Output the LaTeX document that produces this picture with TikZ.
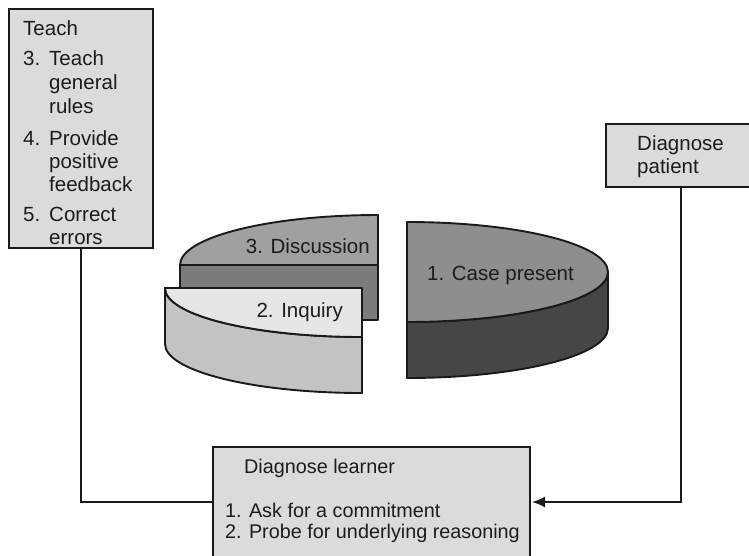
\documentclass[tikz,border=0pt]{standalone}
\usepackage{fontspec}
\setmainfont{Liberation Sans}
\usetikzlibrary{arrows.meta}
\definecolor{boxfill}{HTML}{DBDBDB}
\definecolor{inkline}{HTML}{1A1A1A}
\definecolor{inktext}{HTML}{1C1C1C}
\definecolor{casetop}{HTML}{8E8E8E}
\definecolor{caseside}{HTML}{464646}
\definecolor{caseside2}{HTML}{5A5A5A}
\definecolor{disctop}{HTML}{A0A0A0}
\definecolor{discfront}{HTML}{7B7B7B}
\definecolor{inqtop}{HTML}{E6E6E6}
\definecolor{inqside}{HTML}{C3C3C3}
\tikzset{
  panel/.style={draw=inkline, line width=2.2pt, fill=boxfill, inner sep=0pt, outer sep=0pt},
  lbl/.style={inner sep=0pt, text=inktext, font=\fontsize{20.5}{24}\selectfont},
  lblsm/.style={inner sep=0pt, text=inktext, font=\fontsize{19.8}{22}\selectfont},
  wire/.style={draw=inkline, line width=1.8pt},
  slice/.style={draw=inkline, line width=1.9pt, line join=round},
}
\begin{document}
\begin{tikzpicture}[x=1pt,y=1pt,yscale=-1]
\useasboundingbox (0,0) rectangle (749,555);
\clip (0,0) rectangle (749,555);
\fill[white] (0,0) rectangle (749,555);

% boxes
\node[panel, minimum width=144, minimum height=239] (teach) at (81,128.5) {};
\node[panel, minimum width=150, minimum height=63] (patient) at (681,155.5) {};
\node[panel, minimum width=317, minimum height=110] (learner) at (371.5,502) {};

% connectors
\draw[wire] (teach.south) |- (learner.west);
\draw[wire, -{Latex[length=13pt,width=11pt]}] (patient.south) |- ([xshift=2pt]learner.east);

% Teach box text
\node[lbl, anchor=base west] (tH) at (23,35) {Teach};
\node[lbl, anchor=base west] (n3) at (23,65) {3.};
\node[lbl, anchor=base west] (t3a) at (49,65) {Teach};
\node[lbl, anchor=base west] (t3b) at (49,89) {general};
\node[lbl, anchor=base west] (t3c) at (49,113) {rules};
\node[lbl, anchor=base west] (n4) at (23,145) {4.};
\node[lbl, anchor=base west] (t4a) at (49,145) {Provide};
\node[lbl, anchor=base west] (t4b) at (49,168) {positive};
\node[lbl, anchor=base west] (t4c) at (49,191) {feedback};
\node[lbl, anchor=base west] (n5) at (23,221) {5.};
\node[lbl, anchor=base west] (t5a) at (49,221) {Correct};
\node[lbl, anchor=base west] (t5b) at (49,244) {errors};

% Diagnose patient text
\node[lbl, anchor=base west] (p1) at (637,150) {Diagnose};
\node[lbl, anchor=base west] (p2) at (637,173) {patient};

% Diagnose learner text
\node[lblsm, anchor=base west] (l0) at (244,473) {Diagnose learner};
\node[lblsm, anchor=base west] (l1) at (225,517) {1. Ask for a commitment};
\node[lblsm, anchor=base west] (l2) at (225,538) {2. Probe for underlying reasoning};

% pie: discussion slice (upper-left quarter)
\filldraw[slice, fill=discfront] (180,265) rectangle (378,320);
\filldraw[slice, fill=disctop] (378,265) -- (180,265)
  arc[start angle=180, end angle=270, x radius=198, y radius=50] -- cycle;
\draw[slice] (378,215) -- (378,320);

% pie: inquiry slice (lower-left quarter)
\filldraw[slice, fill=inqside] (165,288)
  arc[start angle=180, end angle=90, x radius=197, y radius=49]
  -- (362,393)
  arc[start angle=90, end angle=180, x radius=197, y radius=49] -- cycle;
\filldraw[slice, fill=inqtop] (362,288) -- (165,288)
  arc[start angle=180, end angle=90, x radius=197, y radius=49] -- cycle;

% pie: case slice (right half)
\shade[left color=caseside, middle color=caseside2, right color=caseside] (608,272)
  arc[start angle=0, end angle=90, x radius=201, y radius=50]
  -- (407,378)
  arc[start angle=90, end angle=0, x radius=201, y radius=50] -- cycle;
\draw[slice] (608,272)
  arc[start angle=0, end angle=90, x radius=201, y radius=50]
  -- (407,378)
  arc[start angle=90, end angle=0, x radius=201, y radius=50] -- cycle;
\filldraw[slice, fill=casetop] (407,222)
  arc[start angle=-90, end angle=90, x radius=201, y radius=50] -- cycle;

% slice labels
\node[lbl, anchor=base east] (sDisc) at (370,253) {3. Discussion};
\node[lbl, anchor=base east] (sInq) at (343,317) {2. Inquiry};
\node[lbl, anchor=base west] (sCase) at (427,280) {1. Case present};
\end{tikzpicture}
\end{document}
